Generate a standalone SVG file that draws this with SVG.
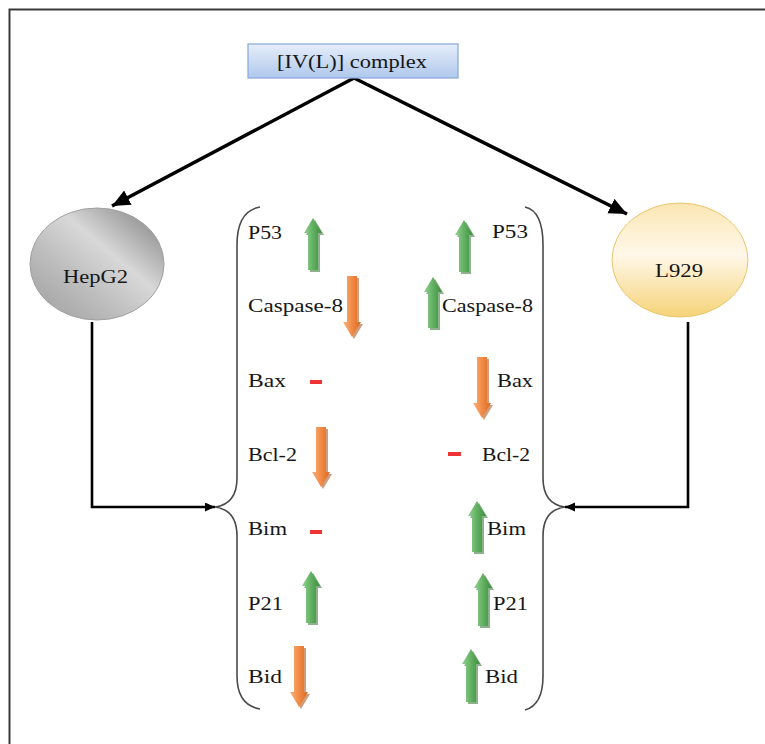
<svg xmlns="http://www.w3.org/2000/svg" width="765" height="744" viewBox="0 0 765 744">
  <defs>
    <linearGradient id="boxFill" x1="0" y1="0" x2="0" y2="1">
      <stop offset="0" stop-color="#e6eefa"/>
      <stop offset="1" stop-color="#afc8ec"/>
    </linearGradient>
    <linearGradient id="hepFill" x1="0" y1="1" x2="1" y2="0">
      <stop offset="0" stop-color="#9c9c9c"/>
      <stop offset="0.35" stop-color="#bdbdbd"/>
      <stop offset="0.6" stop-color="#d8d8d8"/>
      <stop offset="1" stop-color="#7a7a7a"/>
    </linearGradient>
    <linearGradient id="lFill" x1="0" y1="0" x2="0" y2="1">
      <stop offset="0" stop-color="#fbe6b2"/>
      <stop offset="0.45" stop-color="#fff8ea"/>
      <stop offset="1" stop-color="#f6d378"/>
    </linearGradient>
    <linearGradient id="upFill" x1="0" y1="0" x2="1" y2="0">
      <stop offset="0" stop-color="#93d293"/>
      <stop offset="0.5" stop-color="#62b062"/>
      <stop offset="1" stop-color="#3e8c3e"/>
    </linearGradient>
    <linearGradient id="downFill" x1="0" y1="0" x2="1" y2="0">
      <stop offset="0" stop-color="#fab17c"/>
      <stop offset="0.5" stop-color="#f18b46"/>
      <stop offset="1" stop-color="#da6a20"/>
    </linearGradient>
    <marker id="bigHead" markerUnits="userSpaceOnUse" markerWidth="20" markerHeight="18" refX="18" refY="8" orient="auto">
      <path d="M0,0 L18,8 L0,16 Z" fill="#000"/>
    </marker>
    <marker id="smallHead" markerUnits="userSpaceOnUse" markerWidth="12" markerHeight="10" refX="10" refY="4.5" orient="auto">
      <path d="M0,0 L10,4.5 L0,9 Z" fill="#000"/>
    </marker>
  </defs>
  <style>
    .label { font-family: "Liberation Serif", "Times New Roman", serif; font-size: 19px; fill: #161616; }
    .brace { fill: none; stroke: #4a4a4a; stroke-width: 1.6; }
    .up { fill: url(#upFill); }
    .down { fill: url(#downFill); }
    .upShadow { fill: #2f6f2f; opacity: 0.55; }
    .downShadow { fill: #a84c14; opacity: 0.55; }
    .same { fill: #ee3434; }
    .conn { fill: none; stroke: #000; }
  </style>

  <rect width="765" height="744" fill="#ffffff"/>
  <!-- outer frame -->
  <path d="M9.5,744 L9.5,9.5 L765,9.5" fill="none" stroke="#3a3a3a" stroke-width="2"/>

  <!-- connectors -->
  <g id="connectors">
    <line class="conn" x1="354" y1="78" x2="112" y2="206" stroke-width="3.5" marker-end="url(#bigHead)"/>
    <line class="conn" x1="354" y1="78" x2="627" y2="214" stroke-width="3.5" marker-end="url(#bigHead)"/>
    <path class="conn" d="M92,322 L92,507 L215,507" stroke-width="2.6" marker-end="url(#smallHead)"/>
    <path class="conn" d="M688,322 L688,507 L565,507" stroke-width="2.6" marker-end="url(#smallHead)"/>
  </g>

  <g id="complex">
    <rect x="248" y="44" width="210" height="34" fill="url(#boxFill)" stroke="#86a8d8" stroke-width="1.2"/>
    <text class="label" x="277" y="68" textLength="150" lengthAdjust="spacingAndGlyphs">[IV(L)] complex</text>
  </g>

  <g id="hepg2">
    <ellipse cx="97" cy="264" rx="67" ry="56" fill="url(#hepFill)" stroke="#a0a0a0" stroke-width="1"/>
    <text class="label" x="63" y="283" textLength="65" lengthAdjust="spacingAndGlyphs">HepG2</text>
  </g>

  <g id="l929">
    <ellipse cx="680" cy="260" rx="68" ry="57" fill="url(#lFill)" stroke="#ebc56e" stroke-width="1"/>
    <text class="label" x="655" y="277" textLength="48" lengthAdjust="spacingAndGlyphs">L929</text>
  </g>

  <!-- left brace: HepG2 profile -->
  <g id="hepg2-profile">
    <path class="brace" d="M260,207 Q237,211 237,245 L237,478 Q237,504 215,507 Q237,510 237,536 L237,676 Q237,705 260,709"/>
    <text class="label" x="248" y="239" textLength="34" lengthAdjust="spacingAndGlyphs">P53</text>
    <text class="label" x="248" y="312" textLength="95" lengthAdjust="spacingAndGlyphs">Caspase-8</text>
    <text class="label" x="248" y="387" textLength="38" lengthAdjust="spacingAndGlyphs">Bax</text>
    <text class="label" x="248" y="461" textLength="49" lengthAdjust="spacingAndGlyphs">Bcl-2</text>
    <text class="label" x="248" y="535" textLength="39" lengthAdjust="spacingAndGlyphs">Bim</text>
    <text class="label" x="248" y="610" textLength="35" lengthAdjust="spacingAndGlyphs">P21</text>
    <text class="label" x="248" y="683" textLength="34" lengthAdjust="spacingAndGlyphs">Bid</text>

    <!-- P53 up -->
    <path class="upShadow" d="M315,220 L324,235 L320,235 L320,272 L310,272 L310,235 L306,235 Z"/>
    <path class="up" d="M313,218 L322,233 L318,233 L318,270 L308,270 L308,233 L304,233 Z"/>
    <!-- Caspase-8 down -->
    <path class="downShadow" d="M354,339 L363,324 L359,324 L359,278 L349,278 L349,324 L345,324 Z"/>
    <path class="down" d="M352,337 L361,322 L357,322 L357,276 L347,276 L347,322 L343,322 Z"/>
    <!-- Bax unchanged -->
    <rect class="same" x="310" y="380" width="12" height="4"/>
    <!-- Bcl-2 down -->
    <path class="downShadow" d="M323,489 L332,474 L328,474 L328,429 L318,429 L318,474 L314,474 Z"/>
    <path class="down" d="M321,487 L330,472 L326,472 L326,427 L316,427 L316,472 L312,472 Z"/>
    <!-- Bim unchanged -->
    <rect class="same" x="310" y="530" width="12" height="4"/>
    <!-- P21 up -->
    <path class="upShadow" d="M313,573 L322,588 L318,588 L318,625 L308,625 L308,588 L304,588 Z"/>
    <path class="up" d="M311,571 L320,586 L316,586 L316,623 L306,623 L306,586 L302,586 Z"/>
    <!-- Bid down -->
    <path class="downShadow" d="M301,709 L310,694 L306,694 L306,648 L296,648 L296,694 L292,694 Z"/>
    <path class="down" d="M299,707 L308,692 L304,692 L304,646 L294,646 L294,692 L290,692 Z"/>
  </g>

  <!-- right brace: L929 profile -->
  <g id="l929-profile">
    <path class="brace" d="M525,207 Q543,211 543,245 L543,478 Q543,504 565,507 Q543,510 543,536 L543,676 Q543,705 525,710"/>
    <text class="label" x="492" y="238" textLength="36" lengthAdjust="spacingAndGlyphs">P53</text>
    <text class="label" x="442" y="312" textLength="91" lengthAdjust="spacingAndGlyphs">Caspase-8</text>
    <text class="label" x="497" y="387" textLength="36" lengthAdjust="spacingAndGlyphs">Bax</text>
    <text class="label" x="482" y="461" textLength="48" lengthAdjust="spacingAndGlyphs">Bcl-2</text>
    <text class="label" x="487" y="535" textLength="39" lengthAdjust="spacingAndGlyphs">Bim</text>
    <text class="label" x="493" y="610" textLength="35" lengthAdjust="spacingAndGlyphs">P21</text>
    <text class="label" x="485" y="683" textLength="33" lengthAdjust="spacingAndGlyphs">Bid</text>

    <!-- P53 up -->
    <path class="upShadow" d="M466,222 L475,237 L471,237 L471,274 L461,274 L461,237 L457,237 Z"/>
    <path class="up" d="M464,220 L473,235 L469,235 L469,272 L459,272 L459,235 L455,235 Z"/>
    <!-- Caspase-8 up -->
    <path class="upShadow" d="M435,279 L444,294 L440,294 L440,330 L430,330 L430,294 L426,294 Z"/>
    <path class="up" d="M433,277 L442,292 L438,292 L438,328 L428,328 L428,292 L424,292 Z"/>
    <!-- Bax down -->
    <path class="downShadow" d="M484,420 L493,405 L489,405 L489,359 L479,359 L479,405 L475,405 Z"/>
    <path class="down" d="M482,418 L491,403 L487,403 L487,357 L477,357 L477,403 L473,403 Z"/>
    <!-- Bcl-2 unchanged -->
    <rect class="same" x="448" y="452" width="13" height="4"/>
    <!-- Bim up -->
    <path class="upShadow" d="M479,503 L488,518 L484,518 L484,554 L474,554 L474,518 L470,518 Z"/>
    <path class="up" d="M477,501 L486,516 L482,516 L482,552 L472,552 L472,516 L468,516 Z"/>
    <!-- P21 up -->
    <path class="upShadow" d="M485,575 L494,590 L490,590 L490,628 L480,628 L480,590 L476,590 Z"/>
    <path class="up" d="M483,573 L492,588 L488,588 L488,626 L478,626 L478,588 L474,588 Z"/>
    <!-- Bid up -->
    <path class="upShadow" d="M473,651 L482,666 L478,666 L478,704 L468,704 L468,666 L464,666 Z"/>
    <path class="up" d="M471,649 L480,664 L476,664 L476,702 L466,702 L466,664 L462,664 Z"/>
  </g>
</svg>
